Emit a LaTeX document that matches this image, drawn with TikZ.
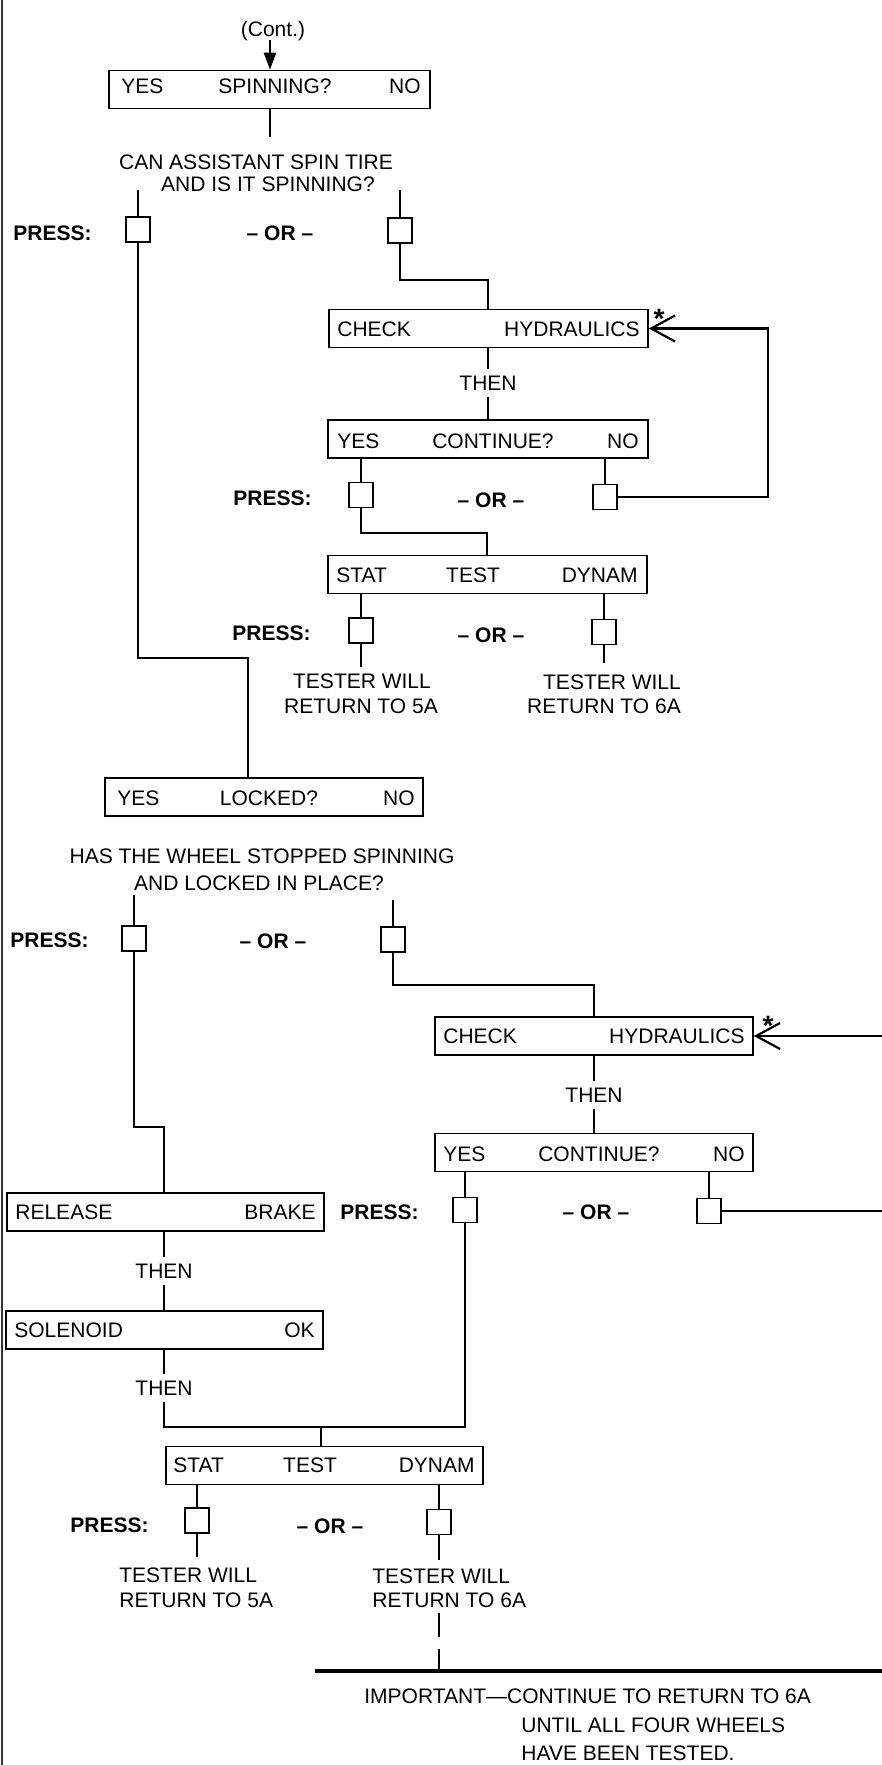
\documentclass[tikz,border=0pt]{standalone}
\usepackage{fontspec}
\setmainfont{Liberation Sans}
\usetikzlibrary{arrows.meta}
\begin{document}
\begin{tikzpicture}[x=0.5pt,y=-0.5pt,
  every node/.style={font=\fontsize{10.5}{12}\selectfont, inner sep=0pt},
  bx/.style={draw, line width=0.75pt, minimum width=#1*0.5pt, minimum height=19pt},
  sq/.style={draw, line width=0.75pt, minimum width=12pt, minimum height=12.5pt},
  cn/.style={line width=1.2pt},
  lb/.style={anchor=base},
  lw/.style={anchor=base west},
  le/.style={anchor=base east},
  bd/.style={font=\fontsize{10.5}{12}\selectfont\bfseries},
  thn/.style={inner sep=3pt},
  starlbl/.style={anchor=north, font=\fontsize{14}{14}\selectfont\bfseries},
  barb/.style={-{Straight Barb[length=12pt,width=13pt,line width=1.1pt]}},
]
\useasboundingbox (0,0) rectangle (882,1765);
\draw[line width=0.7pt, black!80] (2,0) -- (2,1765);

% ---------- top question ----------
\node[lb] (cont) at (273,37) {(Cont.)};
\node[bx=321] (B1) at (269.5,89.5) {};
\coordinate (c0) at (270,40);
\draw[cn,-{Triangle[length=8.5pt,width=6pt]}] (c0) -- (c0 |- B1.north);
\node[lw] (b1y) at (121,94) {YES};
\node[lb] (b1q) at (275,94) {SPINNING?};
\node[le] (b1n) at (421,94) {NO};
\coordinate (q1) at (270,137);
\draw[cn] (q1 |- B1.south) -- (q1);
\node[lb] (q1a) at (256,170) {CAN ASSISTANT SPIN TIRE};
\node[lb] (q1b) at (268,192) {AND IS IT SPINNING?};

\node[lw,bd] (p1) at (13,241) {PRESS:};
\node[lb,bd] (o1) at (280,241) {– OR –};
\node[sq] (S1L) at (138,229.5) {};
\node[sq] (S1R) at (400,230.5) {};
\coordinate (a1) at (138,190);
\coordinate (a2) at (400,190);
\draw[cn] (a1) -- (S1L.north);
\draw[cn] (a2) -- (S1R.north);

% ---------- right branch (not spinning) ----------
\node[bx=319] (CHK1) at (488.5,328.5) {};
\coordinate (r1) at (488,280);
\draw[cn] (S1R.south) |- (r1) -- (r1 |- CHK1.north);
\node[lw] (k1a) at (337,336) {CHECK};
\node[le] (k1b) at (640,336) {HYDRAULICS};
\node[starlbl] (st1) at (659,309) {*};
\node[thn] (th1) at (488,383) {THEN};
\draw[cn] (th1.north |- CHK1.south) -- (th1.north);
\node[bx=320] (CON1) at (488,439) {};
\draw[cn] (th1.south) -- (th1.south |- CON1.north);
\node[lw] (c1y) at (337,448) {YES};
\node[lb] (c1q) at (493,448) {CONTINUE?};
\node[le] (c1n) at (639,448) {NO};

\node[lw,bd] (p2) at (233,505) {PRESS:};
\node[lb,bd] (o2) at (491,507) {– OR –};
\node[sq] (S2L) at (361,495) {};
\node[sq] (S2R) at (605,497) {};
\draw[cn] (S2L.north |- CON1.south) -- (S2L.north);
\draw[cn] (S2R.north |- CON1.south) -- (S2R.north);
\coordinate (loop1) at (768,400);
\draw[cn,barb] (S2R.east) -| (loop1) |- (CHK1.east);

\node[bx=319] (STA1) at (487.5,574.5) {};
\coordinate (r2) at (487,533);
\draw[cn] (S2L.south) |- (r2) -- (r2 |- STA1.north);
\node[lw] (s1a) at (336,582) {STAT};
\node[lb] (s1b) at (473,582) {TEST};
\node[le] (s1c) at (638,582) {DYNAM};

\node[lw,bd] (p3) at (232,640) {PRESS:};
\node[lb,bd] (o3) at (491,642) {– OR –};
\node[sq] (S3L) at (361,630.5) {};
\node[sq] (S3R) at (604,632) {};
\draw[cn] (S3L.north |- STA1.south) -- (S3L.north);
\draw[cn] (S3R.north |- STA1.south) -- (S3R.north);
\coordinate (e1) at (361,667);
\coordinate (e2) at (604,663);
\draw[cn] (S3L.south) -- (e1);
\draw[cn] (S3R.south) -- (e2);
\node[lb] (t1a) at (362,688) {TESTER WILL};
\node[lb] (t1b) at (361,713) {RETURN TO 5A};
\node[lb] (t2a) at (612,689) {TESTER WILL};
\node[lb] (t2b) at (604,713) {RETURN TO 6A};

% ---------- locked question ----------
\node[bx=318] (LOCK) at (264,797) {};
\coordinate (j1) at (248,658);
\draw[cn] (S1L.south) |- (j1) -- (j1 |- LOCK.north);
\node[lw] (l1y) at (117,805) {YES};
\node[lb] (l1q) at (269,805) {LOCKED?};
\node[le] (l1n) at (415,805) {NO};
\node[lb] (q2a) at (262,863) {HAS THE WHEEL STOPPED SPINNING};
\node[lb] (q2b) at (259,890) {AND LOCKED IN PLACE?};

\node[lw,bd] (p4) at (10,947) {PRESS:};
\node[lb,bd] (o4) at (273,948) {– OR –};
\node[sq] (S4L) at (134,938.5) {};
\node[sq] (S4R) at (393,939.5) {};
\coordinate (a3) at (134,895);
\coordinate (a4) at (393,900);
\draw[cn] (a3) -- (S4L.north);
\draw[cn] (a4) -- (S4R.north);

% ---------- right branch (not locked) ----------
\node[bx=318] (CHK2) at (594,1036) {};
\coordinate (j3) at (594,985);
\draw[cn] (S4R.south) |- (j3) -- (j3 |- CHK2.north);
\node[lw] (k2a) at (443,1043) {CHECK};
\node[le] (k2b) at (745,1043) {HYDRAULICS};
\node[starlbl] (st2) at (768,1016) {*};
\coordinate (edge2) at (882,1036);
\draw[cn,barb] (edge2) -- (CHK2.east);
\node[thn] (th2) at (594,1095) {THEN};
\draw[cn] (th2.north |- CHK2.south) -- (th2.north);
\node[bx=318] (CON2) at (594,1152.5) {};
\draw[cn] (th2.south) -- (th2.south |- CON2.north);
\node[lw] (c2y) at (443,1161) {YES};
\node[lb] (c2q) at (599,1161) {CONTINUE?};
\node[le] (c2n) at (745,1161) {NO};

\node[lw,bd] (p5) at (340,1219) {PRESS:};
\node[lb,bd] (o5) at (596,1219) {– OR –};
\node[sq] (S5L) at (465,1210) {};
\node[sq] (S5R) at (709,1211) {};
\draw[cn] (S5L.north |- CON2.south) -- (S5L.north);
\draw[cn] (S5R.north |- CON2.south) -- (S5R.north);
\coordinate (edge3) at (882,1211);
\draw[cn] (S5R.east) -- (edge3);

% ---------- left branch (locked) ----------
\node[bx=317] (REL) at (165.5,1212) {};
\coordinate (j2) at (164,1127);
\draw[cn] (S4L.south) |- (j2) -- (j2 |- REL.north);
\node[lw] (r1a) at (15,1219) {RELEASE};
\node[le] (r1b) at (316,1219) {BRAKE};
\node[thn] (th3) at (164,1271) {THEN};
\draw[cn] (j2 |- REL.south) -- (th3.north);
\node[bx=317] (SOL) at (164.5,1330) {};
\draw[cn] (th3.south) -- (th3.south |- SOL.north);
\node[lw] (o1a) at (14,1337) {SOLENOID};
\node[le] (o1b) at (315,1337) {OK};
\node[thn] (th4) at (164,1388) {THEN};
\draw[cn] (th4.north |- SOL.south) -- (th4.north);

% ---------- final test ----------
\node[bx=317] (STA2) at (324.5,1465.5) {};
\coordinate (jb) at (321,1427);
\draw[cn] (S5L.south) |- (jb);
\draw[cn] (th4.south) |- (jb);
\draw[cn] (jb) -- (jb |- STA2.north);
\node[lw] (s2a) at (173,1472) {STAT};
\node[lb] (s2b) at (310,1472) {TEST};
\node[le] (s2c) at (475,1472) {DYNAM};

\node[lw,bd] (p6) at (70,1532) {PRESS:};
\node[lb,bd] (o6) at (330,1533) {– OR –};
\node[sq] (S6L) at (197,1520.5) {};
\node[sq] (S6R) at (439,1522) {};
\draw[cn] (S6L.north |- STA2.south) -- (S6L.north);
\draw[cn] (S6R.north |- STA2.south) -- (S6R.north);
\coordinate (e3) at (197,1557);
\coordinate (e4) at (439,1560);
\draw[cn] (S6L.south) -- (e3);
\draw[cn] (S6R.south) -- (e4);
\node[lw] (t3a) at (119,1582) {TESTER WILL};
\node[lw] (t3b) at (119,1607) {RETURN TO 5A};
\node[lw] (t4a) at (372,1583) {TESTER WILL};
\node[lw] (t4b) at (372,1607) {RETURN TO 6A};

\coordinate (d0) at (439,1613);
\coordinate (rule) at (439,1671);
\draw[cn, dash pattern=on 12pt off 6pt] (d0) -- (rule);
\draw[line width=2pt] (315,1671) -- (882,1671);

\node[lw] (im1) at (364,1703) {IMPORTANT—CONTINUE TO RETURN TO 6A};
\node[lw] (im2) at (521,1732) {UNTIL ALL FOUR WHEELS};
\node[lw] (im3) at (521,1760) {HAVE BEEN TESTED.};
\end{tikzpicture}
\end{document}
